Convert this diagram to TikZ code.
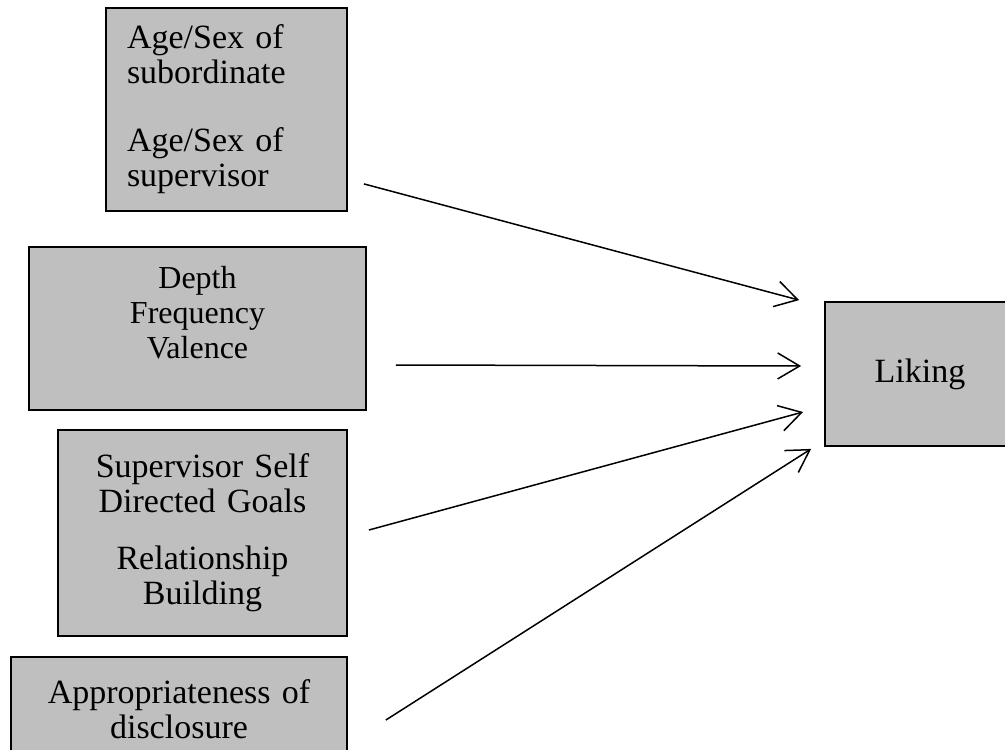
\documentclass[tikz,border=0pt]{standalone}
\usepackage{fontspec}
\setmainfont{Liberation Serif}
\usetikzlibrary{arrows.meta}
\tikzset{
    x=1pt, y=-1pt, % one unit is one pixel, counted from the top
    box/.style={draw=black, line width=1.8pt, fill=gray!50, inner sep=0pt}, % the grey boxes
    cambria/.style={font=\fontsize{34}{35}\selectfont}, % text of most boxes
    times/.style={font=\fontsize{32}{35}\selectfont}, % text of the middle box
    arr/.style={-{Straight Barb[length=22pt,width=26pt]}, line width=1.5pt}, % open arrow heads
    }
\begin{document}
\begin{tikzpicture}
            \useasboundingbox (0,0) rectangle (1005,750);
            \node[box, cambria, minimum width=241pt, minimum height=203pt, text width=199pt, inner xsep=21pt, align=left] (agesex) at (226.5,109.5) {Age/Sex of\\subordinate\\[33pt]Age/Sex of\\supervisor};
            \node[box, minimum width=337pt, minimum height=163pt] (depth) at (197.5,328.5) {};
            \node[times, align=center, anchor=north] (depthtxt) at ([yshift=-17pt]depth.north) {Depth\\Frequency\\Valence};
            \node[box, cambria, minimum width=289pt, minimum height=206pt, text width=289pt, align=center] (goals) at (202.5,533) {Supervisor Self\\Directed Goals\\[22pt]Relationship\\Building};
            \node[box, cambria, minimum width=336pt, minimum height=104pt, text width=336pt, align=center] (approp) at (179,709) {Appropriateness of\\disclosure};
            \node[box, cambria, minimum width=190pt, minimum height=144pt] (liking) at (920,374) {Liking};
            \draw[arr] ([xshift=16pt,yshift=28pt]agesex.south east) -- ([xshift=-25pt,yshift=1pt]liking.north west);
            \draw[arr] ([xshift=29pt,yshift=-36.5pt]depth.east) -- ([xshift=-23pt,yshift=8pt]liking.west);
            \draw[arr] ([xshift=21pt,yshift=3pt]goals.east) -- ([xshift=-21pt,yshift=-38pt]liking.west);
            \draw[arr] ([xshift=38pt,yshift=-11pt]approp.east) -- ([xshift=-13pt,yshift=-2pt]liking.south west);
\end{tikzpicture}
\end{document}
